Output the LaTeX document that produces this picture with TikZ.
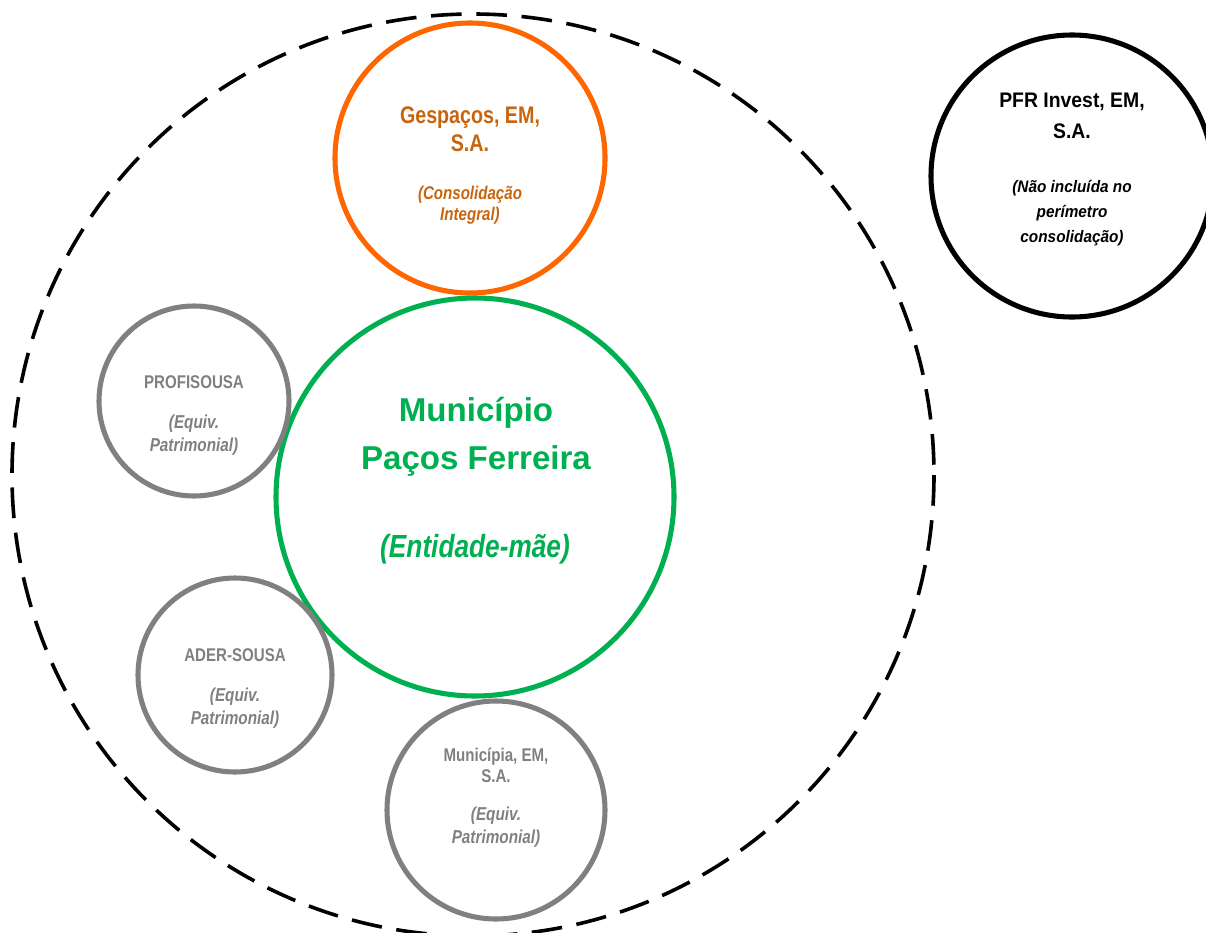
\documentclass[tikz,border=0pt]{standalone}
\usepackage{fontspec}
\setmainfont{Liberation Sans}[FakeStretch=0.82]
\newfontfamily\wideface{Liberation Sans}
\newfontfamily\pfrface{Liberation Sans}[FakeStretch=0.92]
\definecolor{mumGreen}{RGB}{0,176,80}
\definecolor{gesRing}{RGB}{255,102,0}
\definecolor{gesText}{RGB}{200,100,12}
\definecolor{eqGray}{RGB}{128,128,128}

\begin{document}
\begin{tikzpicture}[x=.75pt,y=-.75pt,
  ring/.style={draw,circle,inner sep=0,line width=3.8pt},
  title/.style 2 args={align=center,inner sep=0,font=\fontsize{#1}{#2}\selectfont\bfseries},
  note/.style 2 args={align=center,inner sep=0,font=\fontsize{#1}{#2}\selectfont\bfseries\itshape},
  mainTitle/.style={align=center,inner sep=0,font=\wideface\fontsize{24.8}{36}\selectfont\bfseries},
  pfrTitle/.style={align=center,inner sep=0,font=\pfrface\fontsize{15.8}{23.5}\selectfont\bfseries},
  pfrNote/.style={align=center,inner sep=0,font=\pfrface\fontsize{12.5}{19}\selectfont\bfseries\itshape}]
\useasboundingbox (0,0) rectangle (1206,932);
% perimeter of consolidation
\draw[line width=2.7pt,dash pattern=on 23pt off 11pt] (473,475) circle (461);
\node[ring,gesRing,minimum size=202.5pt] (ges) at (470,158) {};
\node[ring,mumGreen,minimum size=298.5pt] (mun) at (475,497) {};
\node[ring,eqGray,minimum size=142.5pt] (prof) at (194,401) {};
\node[ring,eqGray,minimum size=145.5pt] (ader) at (235,675) {};
\node[ring,eqGray,minimum size=163.5pt] (munp) at (496,810) {};
\node[ring,black,minimum size=211.5pt] (pfr) at (1072,176) {};
% texts
\node[mainTitle,mumGreen] (munName) at (476,437) {Município\\Paços Ferreira};
\node[note={24}{30},mumGreen] (munNote) at (475,549) {(Entidade-mãe)};
\node[title={18}{21},gesText] (gesName) at (470,129) {Gespaços, EM,\\S.A.};
\node[note={13.8}{15.8},gesText] (gesNote) at (470,205) {(Consolidação\\Integral)};
\node[pfrTitle,black] (pfrName) at (1072,116) {PFR Invest, EM,\\S.A.};
\node[pfrNote,black] (pfrNote) at (1072,213) {(Não incluída no\\perímetro\\consolidação)};
\node[title={13.8}{16},eqGray] (profName) at (194,382) {PROFISOUSA};
\node[note={14}{17},eqGray] (profNote) at (194,435) {(Equiv.\\Patrimonial)};
\node[title={13.8}{16},eqGray] (aderName) at (235,655) {ADER-SOUSA};
\node[note={14}{17},eqGray] (aderNote) at (235,708) {(Equiv.\\Patrimonial)};
\node[title={13.8}{16},eqGray] (munpName) at (496,765) {Municípia, EM,\\S.A.};
\node[note={14}{17},eqGray] (munpNote) at (496,827) {(Equiv.\\Patrimonial)};
\end{tikzpicture}
\end{document}
